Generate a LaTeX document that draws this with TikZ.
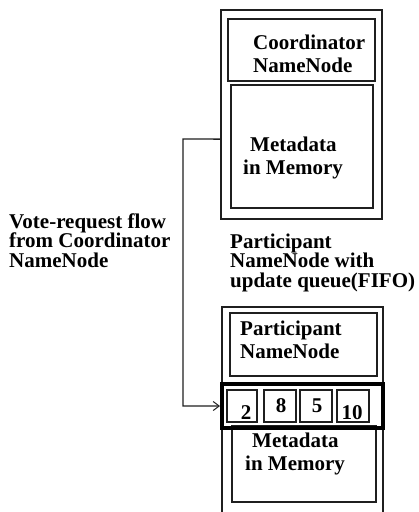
\documentclass[tikz,border=0pt]{standalone}
\usepackage{fontspec}
\setmainfont{Liberation Serif}
\usetikzlibrary{calc,fit,arrows.meta}
\begin{document}
\begin{tikzpicture}[x=1pt,y=-1pt,
  box/.style={draw=black!88, line width=1.4pt, inner sep=0pt},
  thickbox/.style={draw=black, line width=4pt, inner sep=0pt},
  lblp/.style={font=\bfseries\fontsize{21}{19.5}\selectfont, align=left, inner sep=0pt, anchor=base west},
  lblw/.style={font=\bfseries\fontsize{21}{23}\selectfont, align=left, inner sep=0pt, anchor=base west},
  num/.style={font=\bfseries\fontsize{21}{21}\selectfont, inner sep=0pt, anchor=base},
  conn/.style={draw=black!88, line width=1.3pt},
  tip/.style={-{Straight Barb[length=6pt,width=9pt,line width=1pt]}}]
\useasboundingbox (0,0) rectangle (419,512);
\clip (0,0) rectangle (419,512);
% top stack
\node[box, fit={(221,10)(382,219)}] (topouter) {};
\node[box, fit={(228,19)(375,81)}] (coord) {};
\node[box, fit={(231,85)(373,208)}] (topmeta) {};
\node[lblw] (coordtxt) at (253,72) {Coordinator\\NameNode};
\node[lblw] (topmetatxt) at (243,174) {\hspace*{7pt}Metadata\\in Memory};
% left label
\node[lblp] (vote) at (9,267) {Vote-request flow\\from Coordinator\\NameNode};
% participant label
\node[lblp] (parttxt) at (230,287) {Participant\\NameNode with\\update queue(FIFO)};
% bottom stack
\node[box, fit={(222,307)(383,530)}] (botouter) {};
\node[box, fit={(230,313)(377,376)}] (part) {};
\node[lblw] (partin) at (240,358) {Participant\\NameNode};
\node[box, fit={(232,426)(376,502)}] (botmeta) {};
\node[lblw] (botmetatxt) at (245,470) {\hspace*{7pt}Metadata\\in Memory};
\node[thickbox, fit={(222,384)(383,428)}] (queue) {};
\node[box, fit={(227,390)(257,422)}] (c1) {};
\node[box, fit={(264,390)(296,422)}] (c2) {};
\node[box, fit={(300,390)(332,422)}] (c3) {};
\node[box, fit={(337,390)(369,422)}] (c4) {};
\node[num] (n1) at (246,419) {2};
\node[num] (n2) at (281,412) {8};
\node[num] (n3) at (317,412) {5};
\node[num] (n4) at (352,419) {10};
% connector
\coordinate (bend1) at (183,139);
\draw[conn, tip] ($(topouter.north west)!0.617!(topouter.south west)$) -- (bend1) |- (queue.west);
\end{tikzpicture}
\end{document}
